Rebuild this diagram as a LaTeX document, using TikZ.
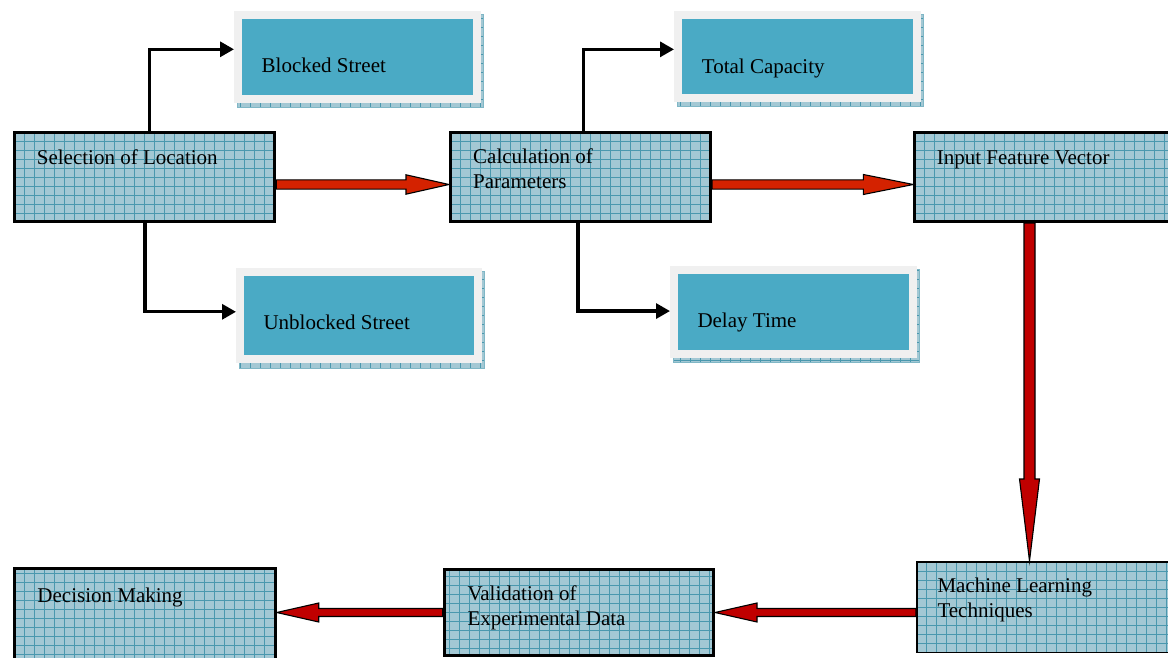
\documentclass[tikz,border=0pt]{standalone}
\usepackage{fontspec}
\setmainfont{Liberation Serif}
\usetikzlibrary{arrows.meta,calc,backgrounds}
\definecolor{gfill}{HTML}{A3C8D4}
\definecolor{gline}{HTML}{4A98AE}
\definecolor{tealf}{HTML}{4AAAC5}
\definecolor{framec}{HTML}{F0F0F0}
\definecolor{redA}{HTML}{D42200}
\definecolor{redB}{HTML}{C00000}
\begin{document}
\begin{tikzpicture}[x=1pt,y=-1pt,
  gridbg/.style={fill=gfill,path picture={\draw[gline,line width=0.7pt] (path picture bounding box.south west) grid[xstep=10pt,ystep=9pt] (path picture bounding box.north east);}},
  gbox/.style={gridbg,draw=black,line width=3pt,inner sep=0pt,anchor=north west},
  tbox/.style={draw=framec,line width=8pt,fill=tealf,inner sep=0pt,anchor=north west},
  lbl/.style={anchor=north west,inner sep=0pt,font=\fontsize{21pt}{25pt}\selectfont,align=left,text=black},
  conn/.style={draw=black,line width=3.2pt,-{Triangle[length=14pt,width=15pt]}},
  rarrow/.style={draw=black,line width=1.1pt,line join=miter},
  shadowgrid/.style={gridbg,draw=gline!70,line width=0.6pt}]
\useasboundingbox (0,0) rectangle (1168,658);
\clip (0,0) rectangle (1168,658);

% main grid boxes
\node[gbox,minimum width=260pt,minimum height=89pt,
  label={[lbl,xshift=23.4pt,yshift=-18.5pt]north west:Selection of Location}] (sel) at (13.3,131) {};
\node[gbox,minimum width=260pt,minimum height=89pt,
  label={[lbl,xshift=24pt,yshift=-17.7pt]north west:{Calculation of\\Parameters}}] (calc) at (449,131) {};
\node[gbox,minimum width=260pt,minimum height=89pt,
  label={[lbl,xshift=23.4pt,yshift=-19.7pt]north west:Input Feature Vector}] (input) at (913.3,131) {};
\node[gbox,line width=1.5pt,minimum width=260pt,minimum height=90.5pt,
  label={[lbl,xshift=21.3pt,yshift=-17pt]north west:{Machine Learning\\Techniques}}] (ml) at (916,561) {};
\node[gbox,minimum width=269.3pt,minimum height=85.4pt,
  label={[lbl,xshift=24.6pt,yshift=-17.7pt]north west:{Validation of\\Experimental Data}}] (valid) at (442.7,568.3) {};
\node[gbox,minimum width=261pt,minimum height=100pt,
  label={[lbl,xshift=24.6pt,yshift=-20.4pt]north west:Decision Making}] (dec) at (12.7,567.3) {};

% teal boxes
\node[tbox,minimum width=238.7pt,minimum height=84pt,
  label={[lbl,xshift=27.5pt,yshift=-46.5pt]north west:Blocked Street}] (bs) at (234,11) {};
\node[tbox,minimum width=238.7pt,minimum height=82.7pt,
  label={[lbl,xshift=27.7pt,yshift=-47.5pt]north west:Total Capacity}] (tc) at (674,11) {};
\node[tbox,minimum width=237.7pt,minimum height=87pt,
  label={[lbl,xshift=27.3pt,yshift=-46.2pt]north west:Unblocked Street}] (ubs) at (236,268.3) {};
\node[tbox,minimum width=238.7pt,minimum height=83.7pt,
  label={[lbl,xshift=27.3pt,yshift=-46.8pt]north west:Delay Time}] (dt) at (670,266) {};

\begin{scope}[on background layer]
  \foreach \b in {bs,tc,ubs,dt}{
    \path[shadowgrid] ($(\b.north west)+(3,3)$) rectangle ($(\b.south east)+(2.5,4.8)$);
  }
\end{scope}

% black connectors
\draw[conn] ($(sel.north)+(4.5,0)$) |- ($(bs.west)+(0,-7.7)$);
\draw[conn] ($(sel.south)+(0.2,0)$) |- ($(ubs.west)+(0,-4)$);
\draw[conn] ($(calc.north)+(2.8,0)$) |- ($(tc.west)+(0,-7)$);
\draw[conn] ($(calc.south)+(-2.5,0)$) |- ($(dt.west)+(0,-0.8)$);

% red block arrows
\coordinate (y1) at (0,184.5);
\coordinate (r1s) at (sel.east |- y1);
\coordinate (r1e) at (calc.west |- y1);
\coordinate (r2s) at (calc.east |- y1);
\coordinate (r2e) at (input.west |- y1);
\coordinate (x3) at (1029.5,0);
\coordinate (r3s) at (input.south -| x3);
\coordinate (r3e) at (ml.north -| x3);
\coordinate (y4) at (0,612.5);
\coordinate (r4s) at (ml.west |- y4);
\coordinate (r4e) at (valid.east |- y4);
\coordinate (r5s) at (valid.west |- y4);
\coordinate (r5e) at (dec.east |- y4);

\filldraw[rarrow,fill=redA] ($(r1s)+(0,-4.6)$) -- ($(r1e)+(-43,-4.6)$) -- ($(r1e)+(-43,-9.7)$) -- (r1e)
  -- ($(r1e)+(-43,9.7)$) -- ($(r1e)+(-43,4.6)$) -- ($(r1s)+(0,4.6)$) -- cycle;
\filldraw[rarrow,fill=redA] ($(r2s)+(0,-4.6)$) -- ($(r2e)+(-50,-4.6)$) -- ($(r2e)+(-50,-10)$) -- (r2e)
  -- ($(r2e)+(-50,10)$) -- ($(r2e)+(-50,4.6)$) -- ($(r2s)+(0,4.6)$) -- cycle;
\filldraw[rarrow,fill=redB] ($(r3s)+(-5.5,0)$) -- ($(r3e)+(-5.5,-82)$) -- ($(r3e)+(-10,-82)$) -- (r3e)
  -- ($(r3e)+(10,-82)$) -- ($(r3e)+(5.5,-82)$) -- ($(r3s)+(5.5,0)$) -- cycle;
\filldraw[rarrow,fill=redB] ($(r4s)+(0,-4)$) -- ($(r4e)+(42,-4)$) -- ($(r4e)+(42,-9.5)$) -- (r4e)
  -- ($(r4e)+(42,9.5)$) -- ($(r4e)+(42,4)$) -- ($(r4s)+(0,4)$) -- cycle;
\filldraw[rarrow,fill=redB] ($(r5s)+(0,-4)$) -- ($(r5e)+(42,-4)$) -- ($(r5e)+(42,-9.5)$) -- (r5e)
  -- ($(r5e)+(42,9.5)$) -- ($(r5e)+(42,4)$) -- ($(r5s)+(0,4)$) -- cycle;
\end{tikzpicture}
\end{document}
